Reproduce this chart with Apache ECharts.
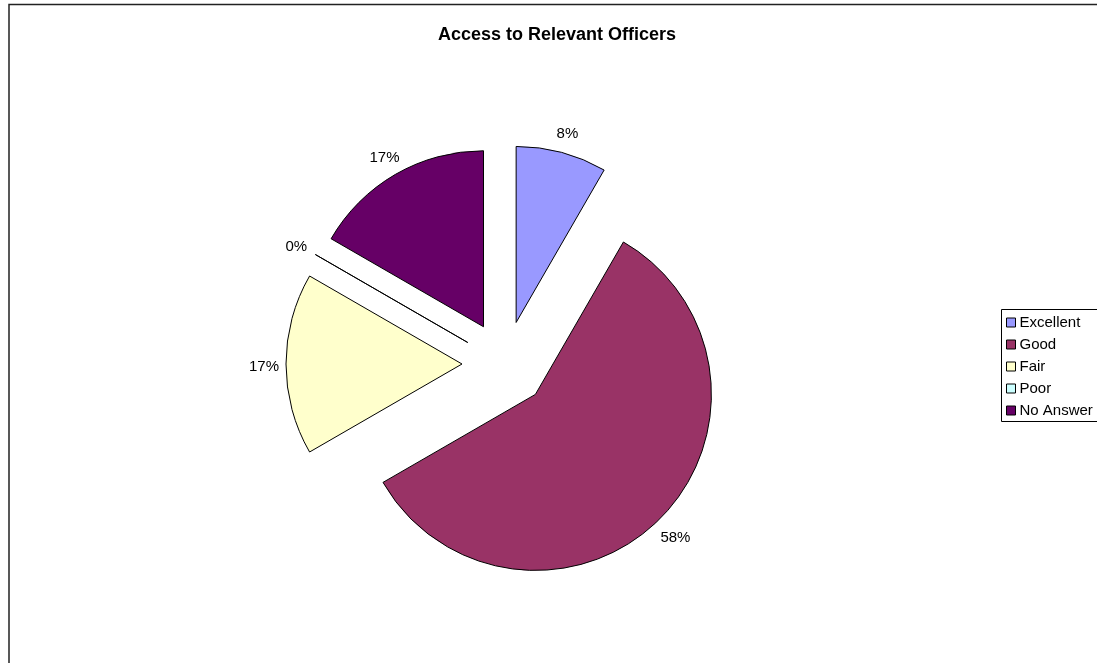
<!DOCTYPE html>
<html>
<head>
<meta charset="utf-8">
<script src="https://cdn.jsdelivr.net/npm/echarts@6/dist/echarts.min.js"></script>
<style>
html,body{margin:0;padding:0;background:#fff;}
#chart{width:1097px;height:663px;}
</style>
</head>
<body>
<div id="chart"></div>
<script>
var titleText = 'Access to Relevant Officers';
var categories = ['Excellent', 'Good', 'Fair', 'Poor', 'No Answer'];
var values = [1, 7, 2, 0, 2];
var colors = ['#9999FF', '#993366', '#FFFFCC', '#CCFFFF', '#660066'];

var FONT = 'Arial, "Liberation Sans", sans-serif';
var chart = echarts.init(document.getElementById('chart'));

var data = categories.map(function (c, i) {
  return { name: c, value: values[i], selected: true, itemStyle: { color: colors[i] } };
});

chart.setOption({
  animation: false,
  backgroundColor: '#fff',
  title: {
    text: titleText,
    left: 552,
    textAlign: 'center',
    top: 21,
    textStyle: { fontFamily: FONT, fontSize: 18, fontWeight: 'bold', color: '#000' }
  },
  legend: {
    orient: 'vertical',
    left: 1001,
    top: 315,
    padding: [0, 0, 0, 5],
    itemWidth: 9,
    itemHeight: 9,
    itemGap: 7,
    icon: 'rect',
    selectedMode: false,
    data: categories,
    itemStyle: { borderColor: '#000', borderWidth: 1 },
    textStyle: { fontFamily: FONT, fontSize: 15, lineHeight: 15, color: '#000', padding: [0, 0, 0, -1] }
  },
  graphic: [
    { type: 'polyline', silent: true, shape: { points: [[9, 663], [9, 4.5], [1097, 4.5]] }, style: { stroke: '#222', lineWidth: 1.5, fill: null } },
    { type: 'rect', silent: true, shape: { x: 1001.5, y: 309.5, width: 120, height: 112 }, style: { stroke: '#000', lineWidth: 1, fill: null }, z: -1 }
  ],
  series: [{
    type: 'pie',
    center: [505, 364],
    radius: 176,
    startAngle: 90,
    clockwise: true,
    selectedMode: 'multiple',
    selectedOffset: 43,
    avoidLabelOverlap: false,
    stillShowZeroSum: true,
    minAngle: 0,
    itemStyle: { borderColor: '#000', borderWidth: 1 },
    label: {
      show: true,
      position: 'outside',
      fontFamily: FONT,
      fontSize: 15,
      color: '#000',
      distanceToLabelLine: 0,
      formatter: function (p) { return Math.round(p.percent) + '%'; }
    },
    labelLine: { show: false, length: 22, length2: 0 },
    labelLayout: { align: 'center', verticalAlign: 'middle', dy: 3 },
    emphasis: { disabled: true },
    select: { disabled: false, itemStyle: { borderColor: '#000', borderWidth: 1 } },
    data: data
  }]
});
</script>
</body>
</html>
